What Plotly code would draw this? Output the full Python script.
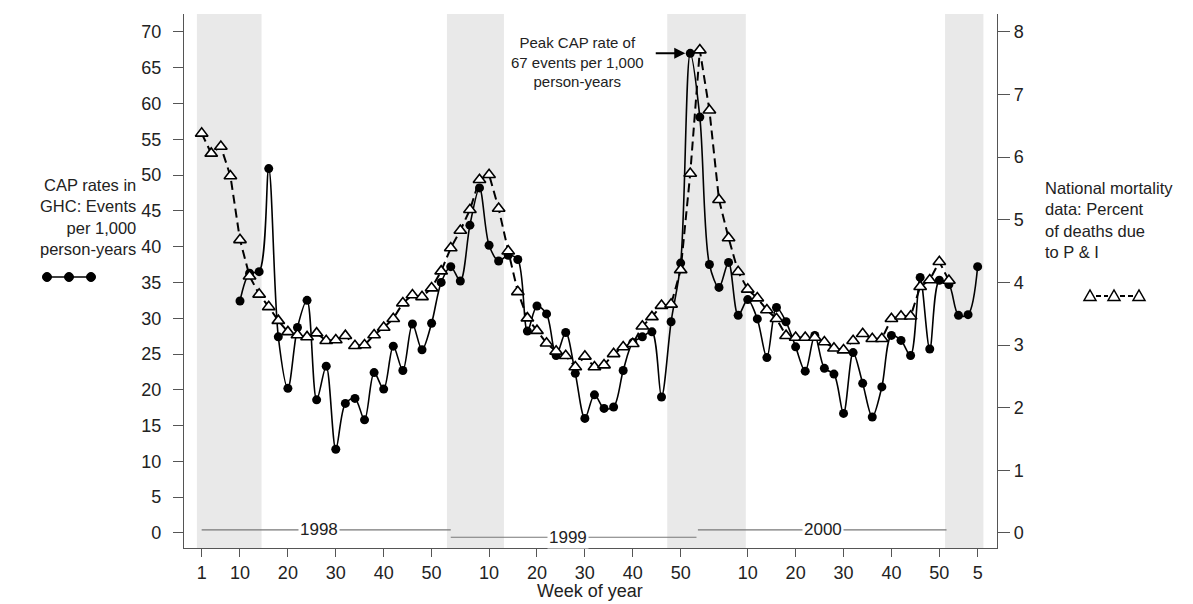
import plotly.graph_objects as go

# ---------------- data ----------------
# week index: 1998 wk w -> w ; 1999 wk w -> 52+w ; 2000 wk w -> 106+w ; 2001 wk w -> 159+w
cap_weeks = list(range(10, 166, 2))
cap_rates = [32.4, 36.3, 36.5, 50.9, 27.4, 20.2, 28.7, 32.5, 18.6, 23.3,
             11.7, 18.1, 18.8, 15.8, 22.4, 20.1, 26.1, 22.7, 29.2, 25.6,
             29.3, 35.0, 37.2, 35.2, 43.0, 48.2, 40.2, 38.0, 38.8, 38.2,
             28.2, 31.7, 30.6, 24.8, 28.0, 22.3, 16.0, 19.3, 17.4, 17.6,
             22.7, 26.6, 27.4, 28.1, 19.0, 29.5, 37.7, 67.0, 58.1, 37.5,
             34.3, 37.8, 30.4, 32.6, 29.9, 24.5, 31.5, 29.5, 26.0, 22.6,
             27.6, 23.0, 22.2, 16.7, 25.2, 20.9, 16.2, 20.4, 27.6, 26.9,
             24.8, 35.7, 25.7, 35.3, 34.7, 30.4, 30.5, 37.2]

pi_weeks = list(range(2, 160, 2))
pi_pct = [6.38, 6.06, 6.17, 5.70, 4.68, 4.10, 3.81, 3.61, 3.39, 3.21,
          3.16, 3.13, 3.19, 3.07, 3.08, 3.15, 2.99, 3.00, 3.16, 3.28,
          3.42, 3.67, 3.80, 3.77, 3.91, 4.18, 4.55, 4.83, 5.16, 5.64,
          5.72, 5.18, 4.50, 3.85, 3.43, 3.23, 3.03, 2.90, 2.83, 2.65,
          2.82, 2.65, 2.68, 2.86, 2.97, 3.02, 3.30, 3.45, 3.63, 3.65,
          4.20, 5.74, 7.71, 6.75, 5.32, 4.71, 4.17, 3.89, 3.75, 3.56,
          3.42, 3.15, 3.12, 3.12, 3.12, 3.05, 2.95, 2.92, 3.07, 3.18,
          3.10, 3.10, 3.42, 3.46, 3.46, 3.93, 4.04, 4.33, 4.03]

x_tick_pos = [2, 10, 20, 30, 40, 50, 62, 72, 82, 92, 102, 116, 126, 136, 146, 156, 164]
x_tick_labels = ["1", "10", "20", "30", "40", "50", "10", "20", "30", "40", "50",
                 "10", "20", "30", "40", "50", "5"]

winter_start = [1.0, 53.2, 99.2, 157.2]
winter_end = [14.5, 65.1, 115.6, 165.2]

year_labels = ["1998", "1999", "2000"]
year_start = [2.0, 54.0, 105.6]
year_end = [54.0, 105.3, 157.5]
year_y = [0.42, -0.6, 0.42]
year_label_x = [26.5, 78.5, 131.7]

peak_week = 104
peak_value = 67

# ---------------- layout geometry ----------------
OFF = 8                      # page body margin
W, H = 1193 - OFF, 604 - OFF
ML, MT = 184 - OFF, 14 - OFF
PW, PH = 813, 534
MR = W - ML - PW
MB = H - MT - PH
FONT = "Liberation Sans, Arial, sans-serif"
TXT = "#222222"
AX = "#555555"

def px(x):
    # screen pixel x -> paper fraction
    return (x - OFF - ML) / PW

def py(y):
    # screen pixel y -> paper fraction
    return (MT + PH - (y - OFF)) / PH

fig = go.Figure()

fig.add_trace(go.Scatter(
    x=cap_weeks, y=cap_rates, mode="lines+markers",
    line=dict(color="black", width=1.6, shape="spline", smoothing=0.9),
    marker=dict(symbol="circle", size=9, color="black"),
    yaxis="y", showlegend=False, cliponaxis=False))

fig.add_trace(go.Scatter(
    x=pi_weeks, y=pi_pct, mode="lines+markers",
    line=dict(color="black", width=2, dash="9px,5px"),
    marker=dict(symbol="triangle-up", size=11, color="white",
                line=dict(color="black", width=1.6)),
    yaxis="y2", showlegend=False, cliponaxis=False))

shapes = []
for a, b in zip(winter_start, winter_end):
    shapes.append(dict(type="rect", xref="x", yref="paper", x0=a, x1=b, y0=0, y1=1,
                       fillcolor="#e9e9e9", line=dict(width=0), layer="below"))
for a, b, yy in zip(year_start, year_end, year_y):
    shapes.append(dict(type="line", xref="x", yref="y", x0=a, x1=b, y0=yy, y1=yy,
                       line=dict(color="#777777", width=1.2), layer="below"))

# legend glyph for CAP (left)
shapes.append(dict(type="line", xref="paper", yref="paper", x0=px(45), x1=px(93),
                   y0=py(277), y1=py(277), line=dict(color="black", width=1.6)))
for cx in [47, 69, 91]:
    shapes.append(dict(type="circle", xref="paper", yref="paper",
                       x0=px(cx - 4.5), x1=px(cx + 4.5), y0=py(277 + 4.5), y1=py(277 - 4.5),
                       fillcolor="black", line=dict(color="black", width=1)))
# legend glyph for P&I (right)
for a, b in [(1090, 1114), (1114, 1139)]:
    shapes.append(dict(type="line", xref="paper", yref="paper", x0=px(a + 6), x1=px(b - 6),
                       y0=py(296), y1=py(296), line=dict(color="black", width=2, dash="5px,3px")))
for cx in [1090, 1114, 1139]:
    path = "M {} {} L {} {} L {} {} Z".format(px(cx - 6), py(300.5), px(cx + 6), py(300.5),
                                             px(cx), py(290))
    shapes.append(dict(type="path", xref="paper", yref="paper", path=path,
                       fillcolor="white", line=dict(color="black", width=1.5)))

annotations = []
for lab, xx, yy in zip(year_labels, year_label_x, year_y):
    annotations.append(dict(x=xx, y=yy, xref="x", yref="y", text=lab, showarrow=False,
                            bgcolor="white", borderpad=1,
                            font=dict(family=FONT, size=17, color=TXT)))

annotations.append(dict(x=px(138), y=py(217), xref="paper", yref="paper",
                        text="CAP rates in<br>GHC: Events<br>per 1,000<br>person-years",
                        showarrow=False, xanchor="right", yanchor="middle", align="right",
                        font=dict(family=FONT, size=16.5, color=TXT)))
annotations.append(dict(x=px(1043), y=py(220), xref="paper", yref="paper",
                        text="National mortality<br>data: Percent<br>of deaths due<br>to P & I",
                        showarrow=False, xanchor="left", yanchor="middle", align="left",
                        font=dict(family=FONT, size=16.5, color=TXT)))
annotations.append(dict(x=px(590), y=py(591), xref="paper", yref="paper",
                        text="Week of year", showarrow=False, yanchor="middle",
                        font=dict(family=FONT, size=18, color=TXT)))
annotations.append(dict(x=80.4, y=65.8, xref="x", yref="y",
                        text="Peak CAP rate of<br>67 events per 1,000<br>person-years",
                        showarrow=False, align="center",
                        font=dict(family=FONT, size=15, color=TXT)))
annotations.append(dict(x=peak_week, y=peak_value, xref="x", yref="y", text="",
                        showarrow=True, ax=-36, ay=0, arrowhead=2, arrowsize=1.1,
                        arrowwidth=2, arrowcolor="black", standoff=5))

fig.update_layout(
    width=W, height=H,
    margin=dict(l=ML, r=MR, t=MT, b=MB, pad=0),
    paper_bgcolor="white", plot_bgcolor="white",
    font=dict(family=FONT, color=TXT),
    shapes=shapes, annotations=annotations,
    xaxis=dict(range=[-1.69, 168.04], tickvals=x_tick_pos, ticktext=x_tick_labels,
               showline=True, linecolor=AX, linewidth=1.3, ticks="outside", ticklen=8,
               tickcolor=AX, tickwidth=1, showgrid=False, zeroline=False,
               tickfont=dict(family=FONT, size=18, color=TXT)),
    yaxis=dict(range=[-2.1, 72.5], tickvals=list(range(0, 75, 5)),
               showline=True, linecolor=AX, linewidth=1.3, ticks="outside", ticklen=10,
               tickcolor=AX, showgrid=False, zeroline=False, ticklabelstandoff=8,
               tickfont=dict(family=FONT, size=18, color=TXT)),
    yaxis2=dict(range=[-0.24, 8.286], tickvals=list(range(0, 9)), overlaying="y",
                side="right", showline=True, linecolor=AX, linewidth=1.3,
                ticks="outside", ticklen=12, tickcolor=AX, showgrid=False, zeroline=False,
                tickfont=dict(family=FONT, size=18, color=TXT)),
)

fig.write_html("out.html")
